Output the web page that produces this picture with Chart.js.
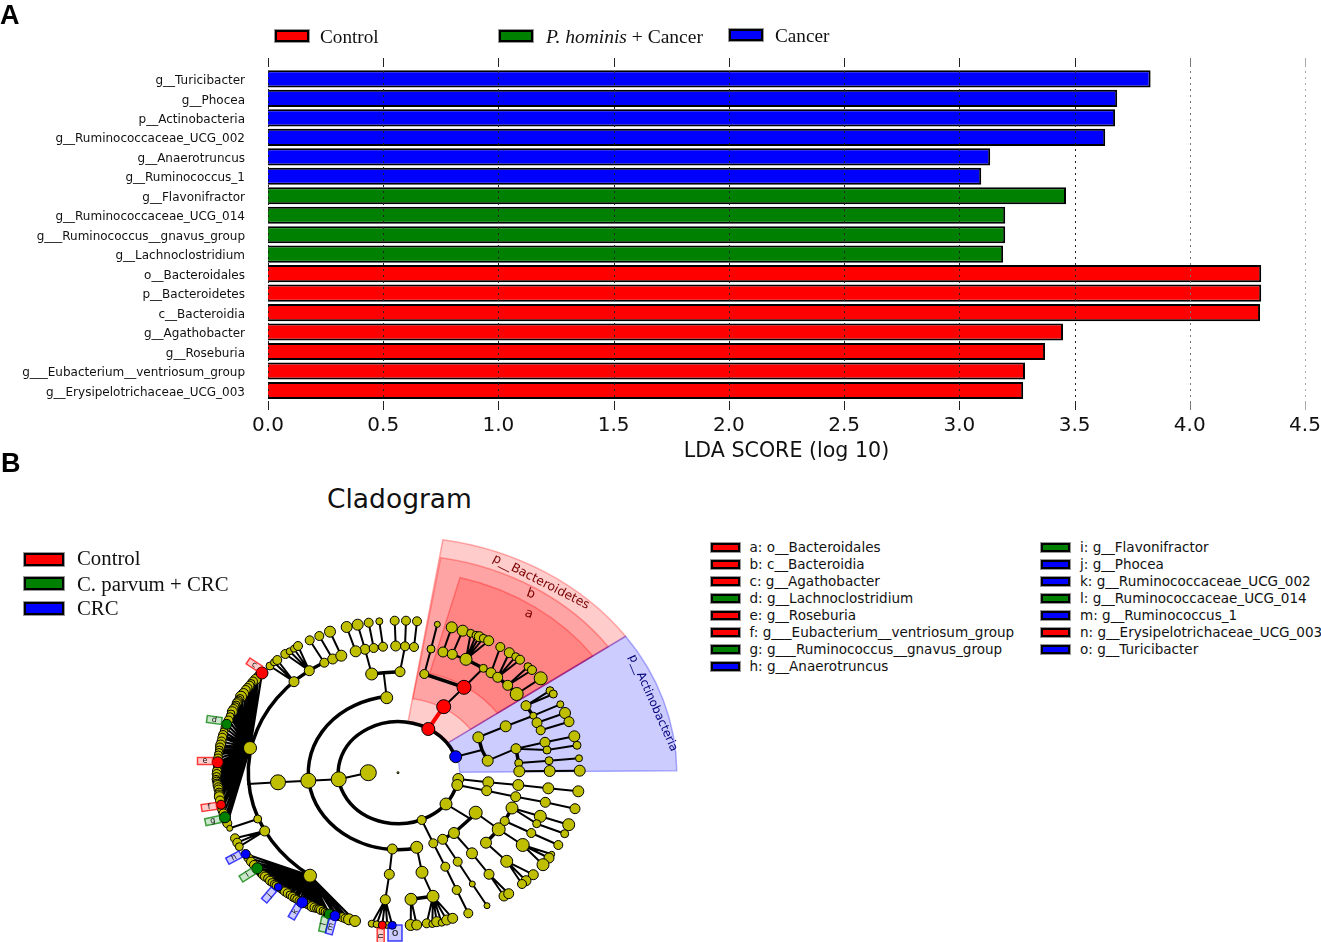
<!DOCTYPE html>
<html>
<head>
<meta charset="utf-8">
<title>LDA score and cladogram</title>
<script src="https://cdn.jsdelivr.net/npm/chart.js@4"></script>
<style>
    body { margin: 0; background: #fff; width: 1321px; height: 942px; position: relative; overflow: hidden; }
    canvas { position: absolute; }
    .t { position: absolute; white-space: nowrap; color: #000; }
    .serif { font-family: "Liberation Serif", serif; line-height: 1; color: #111; }
    .panel { font-family: "Liberation Sans", sans-serif; font-weight: bold; font-size: 27px; line-height: 1; }
    .small { font-family: "DejaVu Sans", sans-serif; font-size: 13.55px; line-height: 1; color: #111; }
    .sw { position: absolute; box-sizing: border-box; border: 2px solid #000; outline: 1px solid #999; }
</style>
</head>
<body>
<canvas id="ldaChart" width="1321" height="470" style="left:0;top:0"></canvas>
<canvas id="cladeChart" width="510" height="412" style="left:180px;top:530px"></canvas>
<div id="labels"></div>
<script>
// panel A
const taxa = ['g__Turicibacter', 'g__Phocea', 'p__Actinobacteria', 'g__Ruminococcaceae_UCG_002', 'g__Anaerotruncus', 'g__Ruminococcus_1',
    'g__Flavonifractor', 'g__Ruminococcaceae_UCG_014', 'g___Ruminococcus__gnavus_group', 'g__Lachnoclostridium',
    'o__Bacteroidales', 'p__Bacteroidetes', 'c__Bacteroidia', 'g__Agathobacter', 'g__Roseburia', 'g___Eubacterium__ventriosum_group', 'g__Erysipelotrichaceae_UCG_003'];
const ldaScores = [3.83, 3.685, 3.676, 3.633, 3.134, 3.095, 3.463, 3.199, 3.199, 3.19, 4.31, 4.31, 4.305, 3.45, 3.372, 3.285, 3.277];
const taxaGroup = ['b', 'b', 'b', 'b', 'b', 'b', 'g', 'g', 'g', 'g', 'r', 'r', 'r', 'r', 'r', 'r', 'r'];
const xTicks = [0, 0.5, 1, 1.5, 2, 2.5, 3, 3.5, 4, 4.5];

// panel B: legend
const legendLeft = ['a: o__Bacteroidales', 'b: c__Bacteroidia', 'c: g__Agathobacter', 'd: g__Lachnoclostridium', 'e: g__Roseburia', 'f: g___Eubacterium__ventriosum_group', 'g: g___Ruminococcus__gnavus_group', 'h: g__Anaerotruncus'];
const legendLeftGroup = ['r', 'r', 'r', 'g', 'r', 'r', 'g', 'b'];
const legendRight = ['i: g__Flavonifractor', 'j: g__Phocea', 'k: g__Ruminococcaceae_UCG_002', 'l: g__Ruminococcaceae_UCG_014', 'm: g__Ruminococcus_1', 'n: g__Erysipelotrichaceae_UCG_003', 'o: g__Turicibacter'];
const legendRightGroup = ['g', 'b', 'b', 'g', 'b', 'r', 'b'];

// cladogram tree, one column per property, ten nodes per line
const treeX = [
    398, 338.7, 368.3, 308.3, 278, 248, 250, 310, 257.7, 229.7,
    264.7, 235, 237.3, 239.3, 294, 270, 274, 277.3, 309.3, 285.3,
    289.7, 294, 298, 324.3, 309.7, 332.7, 319.3, 341.3, 330, 386.7,
    383.7, 371.7, 400, 365, 355.7, 373.7, 383, 346.7, 357.7, 368.7,
    379.3, 405, 395.7, 414, 394.7, 406, 417, 428.3, 443.7, 464,
    424.3, 431, 437.3, 483.3, 466, 443, 452.3, 451.7, 462.7, 470.7,
    476, 479.3, 483.3, 488.7, 491, 497.7, 507.7, 516.7, 500.3, 509.3,
    515.7, 520, 528, 532, 540.7, 455.7, 482, 478.3, 487.7, 505.7,
    533.3, 526, 537, 540.7, 550, 553.3, 560.3, 565, 569, 516,
    518.7, 519.3, 545, 574.3, 547, 577, 549, 579, 549.7, 579.7,
    458.3, 488.3, 518.3, 548.3, 578.3, 457.3, 486.7, 515.7, 545.3, 575,
    446, 470, 475.7, 454, 498.7, 504.7, 512, 486, 540.3, 568.7,
    536.7, 564.7, 531.3, 558.3, 522.7, 551.7, 549, 543, 506.7, 533.3,
    526, 522, 472, 489, 504, 508.7, 442.7, 457.7, 472.3, 487,
    421.7, 433.3, 445.3, 456.7, 468.3, 392.3, 416.7, 389.3, 385.3, 371.7,
    376.7, 382.3, 387.3, 392.3, 422, 433, 411, 410.7, 416.7, 426.7,
    432.3, 436.7, 441.7, 446.7, 452.7
];
const treeY = [
    772.7, 779.3, 772.7, 780.7, 782.3, 784, 748, 875.7, 819, 828.3,
    831, 838.3, 842.7, 846.7, 681.7, 666, 662.3, 660, 670.7, 654,
    651.3, 648.7, 646, 662.7, 640.3, 659, 636, 655.7, 631.7, 697.7,
    672.7, 674, 671.7, 649.3, 651.3, 648, 646.7, 627, 624.7, 622.7,
    621.3, 646.3, 646, 647, 620.7, 620.7, 621.3, 729, 706.7, 687.3,
    674, 649, 624.3, 668.3, 659.3, 652, 654.3, 627.3, 630.7, 633.3,
    635.3, 636.7, 638.3, 640.7, 672.7, 677.3, 685.3, 694, 647, 652.7,
    656.7, 659.7, 666.7, 670, 678.3, 756.7, 750, 737.3, 760.7, 726.3,
    715.7, 705.7, 722.7, 730.3, 690.7, 694, 704.3, 713, 721.7, 748.7,
    763, 771.3, 742.3, 736.3, 750, 745.3, 760.7, 758.3, 771, 770.7,
    779, 782.3, 785, 788.3, 791.3, 785, 790.7, 796.7, 802.3, 808.7,
    804, 818.7, 812.7, 833, 829.3, 821, 808, 842.7, 816.3, 824.7,
    823.7, 833.7, 833, 845, 845, 854.3, 858, 864.7, 861.3, 874.7,
    880.7, 884, 853.3, 874.3, 896, 893.7, 839.3, 861.7, 884, 905.7,
    820, 843.3, 866.7, 890, 913.3, 849, 847.3, 874.3, 899.7, 923.7,
    924.3, 925, 925, 925.3, 872.3, 896.3, 899.3, 925, 925, 923.3,
    924, 921.7, 922.7, 920, 918.3
];
const treeSize = [
    1, 7.5, 8, 7.5, 7.5, 0, 6.5, 6.5, 4, 3,
    5, 4.5, 4.5, 4, 5, 4, 3.5, 4.5, 5, 4.5,
    3.5, 3.5, 4.5, 4.5, 4.5, 5, 4.5, 5.5, 5.5, 6,
    0, 6, 5, 5, 5.5, 4.5, 4.5, 5.5, 5.5, 4.5,
    3.5, 4.5, 5, 4.5, 4.5, 4.5, 4.5, 6.5, 7, 7,
    4.5, 4, 3, 4, 6, 5, 5, 5.5, 5.5, 4,
    4, 5, 4, 5, 5, 5, 5, 6.5, 4.5, 5,
    4, 4.5, 4, 4.5, 6.5, 6, 0, 5.5, 5.5, 5.5,
    3.5, 5, 5, 4.5, 4, 4, 3.5, 5.5, 5, 5,
    4, 5.5, 5, 5.5, 4, 4, 4, 3.5, 5.5, 5.5,
    5.5, 5.5, 5.5, 5.5, 5.5, 5.5, 5, 5, 5, 5,
    6, 0, 6.5, 5.5, 6.5, 4.5, 6, 5.5, 6, 6,
    4, 4, 4.5, 4.5, 6.5, 3, 5, 6, 6, 5,
    5, 4.5, 5.5, 5, 5, 5, 5, 4.5, 3, 3,
    4.5, 4.5, 4.5, 4.5, 4.5, 5, 6, 5, 5, 3.5,
    3.5, 4, 3.5, 4, 6, 6, 6, 5.5, 5, 4.5,
    3.5, 5, 3.5, 5, 5
];
const treeParent = [
    -1, -1, 1, 1, 3, 4, -1, -1, -1, 8,
    -1, 10, 10, 10, -1, 14, 14, 14, -1, 18,
    18, 18, 18, -1, 23, -1, 25, -1, 27, -1,
    29, 30, 30, 31, 33, 33, 35, 34, 33, 35,
    36, 32, 41, 41, 42, 41, 43, -1, 47, 48,
    49, 50, 51, 49, 53, 54, 54, 55, 56, 54,
    54, 54, 54, 54, 53, 64, 65, 66, 64, 65,
    65, 65, 66, 66, 67, -1, 75, 76, 76, 77,
    79, 80, 80, 82, 81, 81, 80, 82, 83, 78,
    89, 90, 89, 92, 89, 94, 90, 96, 91, 98,
    -1, 100, 101, 102, 103, -1, 105, 106, 107, 108,
    -1, 110, 111, 111, 112, 114, 115, 114, 116, 118,
    116, 120, 115, 122, 114, 124, 124, 124, 117, 128,
    128, 128, 113, 132, 133, 133, 113, 136, 137, 138,
    -1, 140, 141, 142, 143, -1, -1, 145, 147, 148,
    148, 148, 148, 148, 146, 154, 155, 156, 156, 155,
    155, 155, 155, 155, 155
];
const thickLinks = [31, 32, 34, 35, 36, 42, 43, 50, 54, 64, 65, 66, 67, 77, 78, 81, 82, 83, 90, 91, 112, 113, 115, 116, 117, 136, 156];
const redLinks = [48];
const redNodes = [47, 48, 49, 151];
const blueNodes = [75, 153];

// the two big fans hang off nodes 6 and 7
const leftFanX = [262, 258.5, 255.7, 253, 251, 249.5, 247.5, 245.7, 243.5, 241, 240, 238.5, 237.5, 236.7, 236, 235, 233.5, 232.3, 231, 230, 228.5, 226.7, 225.5, 224, 223, 222.3, 221.5, 220.7, 220, 219.3, 219, 218.3, 218, 217.7, 217.5, 217.3, 217, 216.7, 216.5, 216, 216.5, 217, 217.5, 218.3, 218.5, 219, 219, 219.3, 220, 221, 221.5, 221.7, 223.5, 225, 226, 227.3];
const leftFanY = [673, 676, 679.3, 681.5, 683.5, 685.7, 688, 690, 693.5, 696.7, 698.5, 700, 702, 703.3, 705, 706.7, 709, 711.7, 714, 716.7, 720.5, 724.3, 728, 731.7, 735, 737.7, 741.5, 745, 747.5, 750, 752.5, 755, 758.5, 762.3, 765.5, 768.3, 771, 774, 776.5, 779.3, 781, 783, 785, 787.3, 789.5, 792, 794.5, 796.7, 800.5, 804.7, 807.5, 810, 813.5, 817.3, 820.5, 823.3];
const leftFanSize = [6, 4.5, 5, 4.5, 4, 4.5, 4.5, 4.5, 5, 5.5, 4, 4, 4.5, 4.5, 4, 4, 4.5, 5, 4, 4, 4.5, 5, 4.5, 4, 4.5, 4.5, 4.5, 5, 4.5, 4, 4, 4, 4.5, 5.5, 4, 4, 4.5, 4.5, 4, 4, 4, 4, 4.5, 4.5, 4.5, 4, 4.5, 5, 4.5, 4.5, 4, 4, 4.5, 5.5, 4.5, 4.5];
const leftFanRed = [0, 33, 49];
const leftFanGreen = [21, 53];
const lowFanX = [245.7, 248.5, 251, 254, 257.3, 259, 261, 263, 265, 267.5, 270, 272, 274.3, 276, 278.3, 280.5, 282.7, 285, 287.7, 290, 292.7, 294.5, 296.7, 299.5, 302.3, 305, 307.3, 310, 312.3, 314.5, 316.5, 318.5, 320.7, 323, 325, 327, 329.3, 335, 338, 342.3, 345.5, 349, 355];
const lowFanY = [854, 858, 861.7, 865, 868.3, 871, 873.3, 875, 876.5, 878.5, 880.7, 882.5, 884.3, 885.5, 887, 888.5, 890, 891.5, 893.3, 895, 896.7, 898, 899.3, 901, 902.3, 903, 904, 905.5, 906.7, 907.5, 908.5, 909, 910, 911, 912, 913, 914, 915.7, 916.5, 917.3, 918.5, 919.3, 921];
const lowFanSize = [4.5, 4.5, 4.5, 4.5, 5.5, 4, 4, 4.5, 4.5, 4, 4.5, 4, 4, 4, 4, 4, 4, 4.5, 4.5, 4, 4.5, 4, 4, 4.5, 5.5, 4.5, 4.5, 4.5, 5, 4.5, 4, 4, 4.5, 4, 4, 4, 5, 5, 4, 4.5, 4.5, 5.5, 5.5];
const lowFanBlue = [0, 14, 24, 37];
const lowFanGreen = [4, 36];

// ring arcs around the root: radii and degrees
const ringRx = [60, 90, 150];
const ringRy = [51, 77, 127];
const ringFrom = [14, 77, 126];
const ringTo = [345, 261, 240];

// shaded clades, radius and angle measured from the top, clockwise
const sectorFrom = [9.2, 9.5, 15, 54.7];
const sectorTo = [54.7, 54.7, 54.7, 89.5];
const sectorInner = [52, 75, 103, 52];
const sectorOuter = [236, 218, 202, 236];
const sectorGroup = ['r', 'r', 'r', 'b'];

const cladeLabels = ['p__Bacteroidetes', 'b', 'a', 'p__Actinobacteria'];
const cladeLabelX = [541, 530.7, 529, 653];
const cladeLabelY = [582, 594, 614, 703];
const cladeLabelTurn = [27, 20, 20, 66];
const cladeLabelSize = [12.5, 13, 13, 11.8];
const cladeLabelGroup = ['r', 'r', 'r', 'b'];

const tagText = ['c', 'd', 'e', 'f', 'g', 'h', 'i', 'j', 'k', 'l', 'm', 'n', 'o'];
const tagX = [254.3, 214.3, 205, 209, 212.7, 234, 247.3, 269, 295, 323.7, 330.7, 380.7, 395];
const tagY = [665, 720, 761, 807, 820.7, 857.7, 875, 895, 911.7, 924.3, 926.7, 936, 933];
const tagTurn = [33, 8, 0, -8, -12, -28, -32, -50, -60, -78, -75, -90, 0];
const tagGroup = ['r', 'g', 'r', 'r', 'g', 'b', 'g', 'b', 'b', 'g', 'b', 'r', 'b'];

const colors = { r: '#ff0000', g: '#008000', b: '#0000ff', y: '#bfbf00' };
const tints = { r: '255,0,0', g: '0,128,0', b: '0,0,255' };
const darks = { r: '#7a0000', b: '#00007a' };

// dotted grid drawn over the bars, with the short marks above and below
const gridOverBars = {
    id: 'gridOverBars',
    afterDatasetsDraw(chart) {
        const ctx = chart.ctx;
        const x = chart.scales.x;
        const shades = ['#222', '#222', '#222', '#222', '#222', '#222', '#222', '#222', '#777', '#aaa'];
        xTicks.forEach((v, i) => {
            const px = Math.round(x.getPixelForValue(v)) + 0.5;
            ctx.save();
            ctx.strokeStyle = shades[i];
            ctx.lineWidth = 1;
            ctx.beginPath();
            ctx.moveTo(px, 58); ctx.lineTo(px, 65);
            ctx.moveTo(px, 402); ctx.lineTo(px, 410);
            ctx.stroke();
            ctx.setLineDash([2, 4]);
            ctx.beginPath();
            ctx.moveTo(px, 65); ctx.lineTo(px, 402);
            ctx.stroke();
            ctx.restore();
        });
    }
};

new Chart(document.getElementById('ldaChart'), {
    type: 'bar',
    data: {
        labels: taxa,
        datasets: [{
            data: ldaScores,
            backgroundColor: taxaGroup.map(g => colors[g]),
            borderColor: '#000',
            borderWidth: 2,
            barPercentage: 0.88,
            categoryPercentage: 1
        }]
    },
    options: {
        indexAxis: 'y',
        responsive: false,
        animation: false,
        layout: { padding: { top: 69.2, right: 16, left: 0, bottom: 0 } },
        plugins: { legend: { display: false }, tooltip: { enabled: false } },
        scales: {
            x: {
                min: 0,
                max: 4.5,
                afterFit: s => { s.height = 69.8; s.paddingLeft = 0; s.paddingRight = 0; },
                afterBuildTicks: s => { s.ticks = xTicks.map(v => ({ value: v })); },
                grid: { display: false },
                border: { display: false },
                ticks: {
                    padding: 6,
                    maxRotation: 0,
                    color: '#111',
                    font: { family: '"DejaVu Sans"', size: 20 },
                    callback: v => v.toFixed(1)
                },
                title: {
                    display: true,
                    text: 'LDA SCORE (log 10)',
                    color: '#111',
                    font: { family: '"DejaVu Sans"', size: 20.6 },
                    padding: { top: 0, bottom: 6 }
                }
            },
            y: {
                afterFit: s => { s.width = 268; },
                grid: { display: false },
                border: { display: false },
                ticks: {
                    padding: 15,
                    labelOffset: 2,
                    autoSkip: false,
                    color: '#111',
                    font: { family: '"DejaVu Sans"', size: 12 }
                }
            }
        }
    },
    plugins: [gridOverBars]
});

// shaded sectors and rings go under the links, tags and clade names above everything
const cx = 398.3, cy = 772.7, stretch = 1.18;
const rad = d => d * Math.PI / 180;

const cladeDecor = {
    id: 'cladeDecor',
    beforeDatasetsDraw(chart) {
        const ctx = chart.ctx;
        const x = chart.scales.x, y = chart.scales.y;
        const ox = x.getPixelForValue(cx), oy = y.getPixelForValue(cy);
        sectorFrom.forEach((from, i) => {
            const a0 = rad(from - 90), a1 = rad(sectorTo[i] - 90);
            const inner = sectorInner[i], outer = sectorOuter[i];
            ctx.beginPath();
            ctx.ellipse(ox, oy, outer * stretch, outer, 0, a0, a1);
            ctx.ellipse(ox, oy, inner * stretch, inner, 0, a1, a0, true);
            ctx.closePath();
            ctx.fillStyle = `rgba(${tints[sectorGroup[i]]},0.2)`;
            ctx.fill();
            ctx.strokeStyle = `rgba(${tints[sectorGroup[i]]},0.3)`;
            ctx.lineWidth = 1.5;
            ctx.stroke();
        });
        ctx.strokeStyle = '#000';
        ctx.lineWidth = 3.5;
        ringRx.forEach((rx, i) => {
            ctx.beginPath();
            ctx.ellipse(ox, oy, rx, ringRy[i], 0, rad(ringFrom[i]), rad(ringTo[i]));
            ctx.stroke();
        });
    },
    afterDatasetsDraw(chart) {
        const ctx = chart.ctx;
        const x = chart.scales.x, y = chart.scales.y;
        ctx.textAlign = 'center';
        ctx.textBaseline = 'middle';
        cladeLabels.forEach((txt, i) => {
            ctx.save();
            ctx.translate(x.getPixelForValue(cladeLabelX[i]), y.getPixelForValue(cladeLabelY[i]));
            ctx.rotate(rad(cladeLabelTurn[i]));
            ctx.fillStyle = darks[cladeLabelGroup[i]];
            ctx.font = cladeLabelSize[i] + 'px "DejaVu Sans"';
            ctx.fillText(txt, 0, 0);
            ctx.restore();
        });
        tagText.forEach((txt, i) => {
            const g = tints[tagGroup[i]];
            const big = txt === 'o';
            ctx.save();
            ctx.translate(x.getPixelForValue(tagX[i]), y.getPixelForValue(tagY[i]));
            ctx.rotate(rad(tagTurn[i]));
            const w = big ? 14 : 15, h = big ? 16 : 7;
            ctx.fillStyle = `rgba(${g},0.2)`;
            ctx.strokeStyle = `rgba(${g},0.75)`;
            ctx.lineWidth = 1.5;
            ctx.fillRect(-w / 2, -h / 2, w, h);
            ctx.strokeRect(-w / 2, -h / 2, w, h);
            ctx.fillStyle = '#111';
            ctx.font = (big ? 11 : 8) + 'px "DejaVu Sans"';
            ctx.fillText(txt, 0, 0);
            ctx.restore();
        });
    }
};

// build the link and node lists for the scatter chart
const thinPts = [], thickPts = [], redPts = [];
function pushLink(list, ax, ay, bx, by) {
    list.push({ x: ax, y: ay }, { x: bx, y: by }, { x: NaN, y: NaN });
}
treeParent.forEach((p, i) => {
    if (p < 0) return;
    const list = redLinks.includes(i) ? redPts : thickLinks.includes(i) ? thickPts : thinPts;
    pushLink(list, treeX[p], treeY[p], treeX[i], treeY[i]);
});
const fanPts = [];
leftFanX.forEach((v, i) => pushLink(fanPts, treeX[6], treeY[6], v, leftFanY[i]));
lowFanX.forEach((v, i) => pushLink(fanPts, treeX[7], treeY[7], v, lowFanY[i]));

const plainNodes = [], markedNodes = [];
function addNode(px, py, size, kind) {
    if (size > 0) (kind === 'y' ? plainNodes : markedNodes).push({ x: px, y: py, r: size, c: colors[kind] });
}
leftFanX.forEach((v, i) => addNode(v, leftFanY[i], leftFanSize[i], leftFanRed.includes(i) ? 'r' : leftFanGreen.includes(i) ? 'g' : 'y'));
lowFanX.forEach((v, i) => addNode(v, lowFanY[i], lowFanSize[i], lowFanBlue.includes(i) ? 'b' : lowFanGreen.includes(i) ? 'g' : 'y'));
treeX.forEach((v, i) => addNode(v, treeY[i], treeSize[i], redNodes.includes(i) ? 'r' : blueNodes.includes(i) ? 'b' : 'y'));

const linkSet = (data, width, color) => ({
    type: 'line', data, borderColor: color, borderWidth: width,
    pointRadius: 0, spanGaps: false, fill: false, tension: 0, borderCapStyle: 'round'
});
const nodeSet = data => ({
    type: 'scatter', data, showLine: false,
    backgroundColor: data.map(d => d.c),
    borderColor: '#000', borderWidth: 1,
    pointRadius: data.map(d => d.r), pointHoverRadius: data.map(d => d.r)
});

new Chart(document.getElementById('cladeChart'), {
    type: 'scatter',
    data: {
        datasets: [
            nodeSet(markedNodes),
            nodeSet(plainNodes),
            linkSet(redPts, 4, '#ff0000'),
            linkSet(thinPts, 2, '#000'),
            linkSet(fanPts, 2.2, '#000'),
            linkSet(thickPts, 3.5, '#000')
        ]
    },
    options: {
        responsive: false,
        animation: false,
        layout: { padding: 0, autoPadding: false },
        plugins: { legend: { display: false }, tooltip: { enabled: false } },
        scales: {
            x: { type: 'linear', min: 180, max: 690, display: false },
            y: { type: 'linear', min: 530, max: 942, reverse: true, display: false }
        }
    },
    plugins: [cladeDecor]
});

// html labels and legends
const host = document.getElementById('labels');
function addText(cls, html, left, top, size) {
    const d = document.createElement('div');
    d.className = 't ' + cls;
    d.innerHTML = html;
    d.style.left = left + 'px';
    d.style.top = top + 'px';
    if (size) d.style.fontSize = size + 'px';
    host.appendChild(d);
}
function addSwatch(group, left, top, w, h) {
    const d = document.createElement('div');
    d.className = 'sw';
    d.style.cssText = `left:${left}px;top:${top}px;width:${w}px;height:${h}px;background:${colors[group]}`;
    host.appendChild(d);
}

addText('panel', 'A', 0, 2);
addText('panel', 'B', 1, 450);

addSwatch('r', 275, 30, 34, 12);
addText('serif', 'Control', 320, 27, 19.2);
addSwatch('g', 499, 30, 34, 12);
addText('serif', '<i>P. hominis</i> + Cancer', 546, 27, 19.5);
addSwatch('b', 729, 29, 34, 12);
addText('serif', 'Cancer', 775, 26, 19.2);

addText('cladoTitle', 'Cladogram', 327, 483);
host.lastChild.style.cssText += ';font-family:"DejaVu Sans";font-size:26.5px;line-height:1.2;color:#111';

addSwatch('r', 24, 553, 40, 13);
addText('serif', 'Control', 77, 548, 20.8);
addSwatch('g', 24, 577, 40, 13);
addText('serif', 'C. parvum + CRC', 77, 573.5, 20.8);
addSwatch('b', 24, 602, 40, 13);
addText('serif', 'CRC', 77, 597.5, 20.8);

legendLeft.forEach((txt, i) => {
    const top = 547.5 + i * 17;
    addSwatch(legendLeftGroup[i], 711, top - 4.5, 29, 9);
    addText('small', txt, 749.5, top - 7);
});
legendRight.forEach((txt, i) => {
    const top = 547.5 + i * 17;
    addSwatch(legendRightGroup[i], 1041, top - 4.5, 29, 9);
    addText('small', txt, 1080, top - 7);
});
</script>
</body>
</html>
